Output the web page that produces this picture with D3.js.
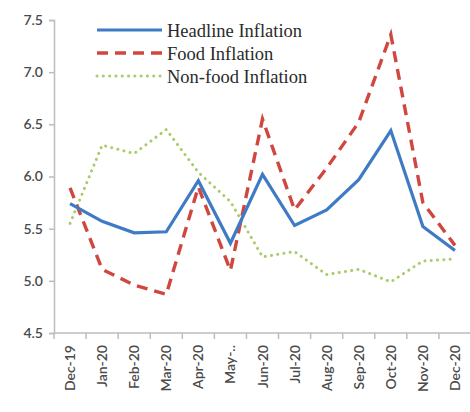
<!DOCTYPE html>
<html>
<head>
<meta charset="utf-8">
<script src="https://cdn.jsdelivr.net/npm/d3@7"></script>
<style>
  html, body { margin: 0; padding: 0; background: #fff; }
  svg { display: block; }
</style>
</head>
<body>
<svg id="chart" width="470" height="412"></svg>
<script>
// Monthly inflation, Dec-19 to Dec-20 (per cent)
const months = ["Dec-19","Jan-20","Feb-20","Mar-20","Apr-20","May-..","Jun-20","Jul-20","Aug-20","Sep-20","Oct-20","Nov-20","Dec-20"];
const headline = [5.74, 5.57, 5.46, 5.47, 5.96, 5.36, 6.02, 5.53, 5.68, 5.97, 6.44, 5.52, 5.29];
const food     = [5.89, 5.11, 4.96, 4.87, 5.90, 5.10, 6.55, 5.68, 6.08, 6.52, 7.36, 5.75, 5.34];
const nonfood  = [5.55, 6.30, 6.22, 6.45, 6.04, 5.76, 5.23, 5.28, 5.06, 5.11, 4.99, 5.19, 5.21];
const yTicks   = [4.5, 5.0, 5.5, 6.0, 6.5, 7.0, 7.5];

const seriesNames = ["Headline Inflation", "Food Inflation", "Non-food Inflation"];

const svg = d3.select("#chart");
const plotLeft = 54, plotRight = 471, plotTop = 20, plotBottom = 333;

const x = d3.scaleBand().domain(months).range([plotLeft, plotRight]);
const y = d3.scaleLinear().domain([4.5, 7.5]).range([plotBottom, plotTop]);

const axisColor = "#bdbdbd";
const labelColor = "#4a4a4a";

// y axis
const yAxis = svg.append("g")
  .attr("transform", `translate(${plotLeft},0)`)
  .call(d3.axisLeft(y).tickValues(yTicks).tickFormat(d3.format(".1f")).tickSize(5).tickPadding(6));
yAxis.select(".domain").attr("stroke", axisColor).attr("stroke-width", 1.5);
yAxis.selectAll(".tick line").attr("stroke", axisColor).attr("stroke-width", 1.5);
yAxis.selectAll(".tick text")
  .attr("fill", labelColor)
  .style("font-family", "Lato, 'Open Sans', sans-serif")
  .style("font-size", "14px")
  .style("font-weight", "600");

// x axis: ticks sit between categories
const xAxisG = svg.append("g").attr("transform", `translate(0,${plotBottom})`);
xAxisG.append("line")
  .attr("x1", plotLeft).attr("x2", plotRight)
  .attr("stroke", axisColor).attr("stroke-width", 1.5);
const boundaries = months.map(m => x(m)).concat([x(months[months.length - 1]) + x.bandwidth()]);
xAxisG.selectAll("line.tk").data(boundaries).join("line")
  .attr("class", "tk")
  .attr("x1", d => d).attr("x2", d => d)
  .attr("y1", 0).attr("y2", 6)
  .attr("stroke", axisColor).attr("stroke-width", 1.5);
xAxisG.selectAll("text").data(months).join("text")
  .attr("transform", d => `translate(${x(d) + x.bandwidth() / 2 + 5},12) rotate(-90)`)
  .attr("text-anchor", "end")
  .attr("fill", labelColor)
  .style("font-family", "Lato, 'Open Sans', sans-serif")
  .style("font-size", "14px")
  .style("font-weight", "600")
  .text(d => d);

const line = d3.line()
  .x((d, i) => x(months[i]) + x.bandwidth() / 2)
  .y(d => y(d));

const styles = [
  { data: headline, color: "#3f7bc4", width: 3.2, dash: null, cap: "butt" },
  { data: food,     color: "#d0473f", width: 3.4, dash: "11 7", cap: "butt" },
  { data: nonfood,  color: "#a9cc6a", width: 3, dash: "0.1 6.2", cap: "round" }
];

// draw non-food first so the other lines sit on top
[2, 1, 0].forEach(k => {
  const s = styles[k];
  svg.append("path")
    .datum(s.data)
    .attr("fill", "none")
    .attr("stroke", s.color)
    .attr("stroke-width", s.width)
    .attr("stroke-linejoin", "miter")
    .attr("stroke-linecap", s.cap)
    .attr("stroke-dasharray", s.dash)
    .attr("d", line);
});

// legend
const legend = svg.append("g");
seriesNames.forEach((name, k) => {
  const s = styles[k];
  const ly = 30 + k * 23;
  legend.append("line")
    .attr("x1", 97).attr("x2", 162)
    .attr("y1", ly).attr("y2", ly)
    .attr("stroke", s.color)
    .attr("stroke-width", s.width)
    .attr("stroke-linecap", s.cap)
    .attr("stroke-dasharray", s.dash);
  legend.append("text")
    .attr("x", 167).attr("y", ly + 7)
    .attr("fill", "#2a2a2a")
    .style("font-family", "'Liberation Serif', 'DejaVu Serif', serif")
    .style("font-size", "18.5px")
    .text(name);
});
</script>
</body>
</html>
